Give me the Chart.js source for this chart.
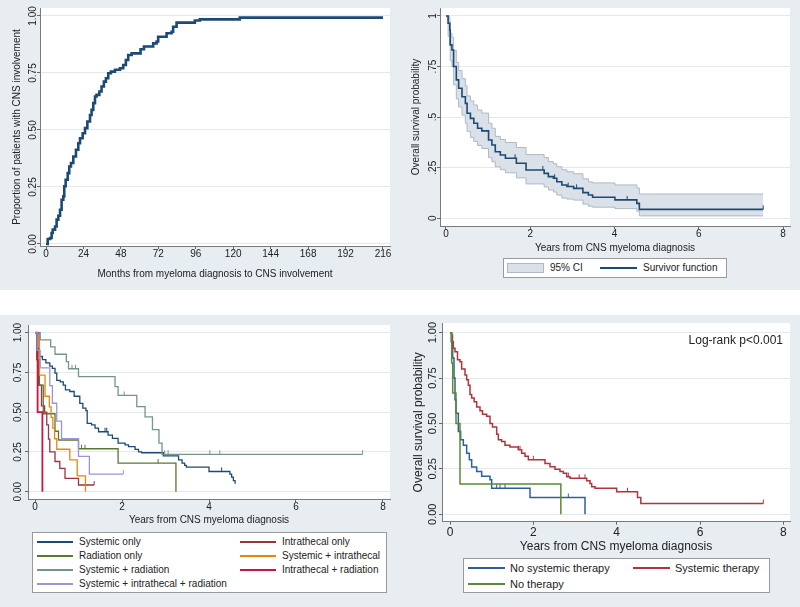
<!DOCTYPE html>
<html><head><meta charset="utf-8">
<script src="https://cdn.jsdelivr.net/npm/chart.js@4.4.1/dist/chart.umd.min.js"></script>
<style>
html,body{margin:0;padding:0;background:#fff}
body{width:800px;height:607px;position:relative;overflow:hidden;font-family:"Liberation Sans",Arial,sans-serif;color:#222}
.panel{position:absolute;background:#e7edf1;overflow:hidden}
.panel canvas{position:absolute;left:0;top:0}
.legend{position:absolute;background:#fff;border:1px solid #9a9a9a;box-sizing:border-box}
.legend .sw{position:absolute}
.legend .tx{position:absolute;white-space:nowrap;color:#222}
.note{position:absolute;white-space:nowrap;color:#222}
</style></head><body>
<div class="panel" id="p1" style="left:0;top:0;width:400px;height:290px"><canvas id="c1" width="400" height="290"></canvas></div>
<div class="panel" id="p2" style="left:400px;top:0;width:400px;height:290px"><canvas id="c2" width="400" height="290"></canvas></div>
<div class="panel" id="p3" style="left:0;top:315px;width:400px;height:292px"><canvas id="c3" width="400" height="292"></canvas></div>
<div class="panel" id="p4" style="left:400px;top:315px;width:400px;height:292px"><canvas id="c4" width="400" height="292"></canvas><div class="note" id="logrank" style="right:17px;top:18px;font-size:12px;line-height:14px"></div></div>
<script>
// ================= DATA =================
// Panel 1: cumulative proportion with CNS involvement
const P1_MONTHS = [0, 1.1, 2.6, 3.6, 4.3, 5.8, 6.8, 7.9, 9.0, 10.0, 11.1, 11.7, 12.6, 13.9, 14.9, 16.0, 17.5, 19.2, 20.7, 21.8, 23.5, 25.0, 26.5, 28.2, 29.2, 30.3, 31.4, 32.4, 34.2, 35.6, 37.1, 38.4, 39.9, 41.6, 44.2, 47.4, 49.5, 51.2, 52.7, 54.9, 60.6, 62.8, 68.7, 70.9, 71.9, 77.3, 80.5, 81.5, 83.7, 95.4, 98.6, 124.2, 216];
const P1_PROP = [0, 0.022, 0.026, 0.048, 0.063, 0.077, 0.107, 0.124, 0.150, 0.194, 0.209, 0.253, 0.282, 0.311, 0.340, 0.355, 0.384, 0.413, 0.442, 0.464, 0.486, 0.508, 0.537, 0.566, 0.588, 0.618, 0.647, 0.654, 0.669, 0.691, 0.712, 0.727, 0.749, 0.756, 0.764, 0.771, 0.785, 0.807, 0.829, 0.836, 0.854, 0.866, 0.880, 0.888, 0.909, 0.924, 0.931, 0.953, 0.971, 0.980, 0.985, 0.993, 0.993];
const P1_X_TICKS = [0, 24, 48, 72, 96, 120, 144, 168, 192, 216];
const P1_Y_TICKS = [0, 0.25, 0.5, 0.75, 1];
const P1_Y_LABELS = ['0.00', '0.25', '0.50', '0.75', '1.00'];
const P1_X_TITLE = 'Months from myeloma diagnosis to CNS involvement';
const P1_Y_TITLE = 'Proportion of patients with CNS involvement';

// Panel 2: overall survival with 95% CI
const P2_YEARS = [0, 0.05, 0.09, 0.10, 0.14, 0.18, 0.245, 0.30, 0.38, 0.46, 0.50, 0.58, 0.66, 0.75, 0.85, 1.01, 1.09, 1.17, 1.29, 1.41, 1.67, 1.90, 2.33, 2.43, 2.55, 2.63, 2.75, 2.87, 3.03, 3.25, 3.38, 3.48, 4.01, 4.53, 4.59, 7.53];
const P2_SURV = [1, 0.964, 0.93, 0.857, 0.832, 0.75, 0.684, 0.643, 0.601, 0.568, 0.519, 0.494, 0.47, 0.445, 0.432, 0.387, 0.362, 0.329, 0.313, 0.297, 0.272, 0.239, 0.222, 0.206, 0.198, 0.181, 0.165, 0.157, 0.148, 0.127, 0.115, 0.104, 0.091, 0.074, 0.044, 0.044];
const P2_LOWER = [1, 0.90, 0.86, 0.78, 0.75, 0.66, 0.59, 0.55, 0.51, 0.47, 0.43, 0.40, 0.38, 0.36, 0.345, 0.30, 0.28, 0.255, 0.24, 0.225, 0.20, 0.17, 0.155, 0.14, 0.13, 0.115, 0.10, 0.095, 0.09, 0.07, 0.06, 0.055, 0.048, 0.035, 0.012, 0.012];
const P2_UPPER = [1, 1, 0.975, 0.915, 0.895, 0.83, 0.77, 0.73, 0.69, 0.655, 0.605, 0.58, 0.56, 0.535, 0.52, 0.47, 0.445, 0.405, 0.39, 0.375, 0.35, 0.315, 0.30, 0.28, 0.27, 0.255, 0.24, 0.23, 0.22, 0.195, 0.18, 0.175, 0.165, 0.15, 0.12, 0.12];
const P2_CENSOR = [1.64, 2.3, 2.58, 2.9, 3.1, 4.3, 7.53];
const P2_Y_LABELS = ['0', '.25', '.5', '.75', '1'];
const P2_LEGEND = ['95% CI', 'Survivor function'];

const YEAR_TICKS = [0, 2, 4, 6, 8];
const SURV_Y_TICKS = [0, 0.25, 0.5, 0.75, 1];
const SURV_Y_LABELS = ['0.00', '0.25', '0.50', '0.75', '1.00'];
const YEARS_TITLE = 'Years from CNS myeloma diagnosis';
const OS_TITLE = 'Overall survival probability';

// Panel 3: survival by treatment group
const P3_SERIES = ['Systemic only', 'Intrathecal only', 'Radiation only', 'Systemic + intrathecal', 'Systemic + radiation', 'Intrathecal + radiation', 'Systemic + intrathecal + radiation'];
const P3_SYS_T = [0, 0.04, 0.1, 0.17, 0.25, 0.34, 0.4, 0.46, 0.5, 0.58, 0.65, 0.7, 0.8, 0.9, 1.03, 1.1, 1.17, 1.2, 1.3, 1.38, 1.46, 1.68, 1.78, 1.91, 2.07, 2.15, 2.3, 2.38, 2.45, 2.95, 3.3, 3.38, 3.44, 3.48, 4.0, 4.48, 4.52, 4.56, 4.6];
const P3_SYS_S = [1, 0.9, 0.85, 0.83, 0.81, 0.79, 0.775, 0.745, 0.7, 0.69, 0.67, 0.64, 0.63, 0.6, 0.555, 0.525, 0.51, 0.43, 0.42, 0.4, 0.377, 0.356, 0.335, 0.305, 0.294, 0.283, 0.266, 0.25, 0.245, 0.225, 0.2, 0.18, 0.165, 0.155, 0.127, 0.11, 0.092, 0.07, 0.05];
const P3_SYS_C = [1.61, 1.65, 4.29];
const P3_IT_T = [0, 0.04, 0.08, 0.15, 0.22, 0.27, 0.31, 0.34, 0.46, 0.57, 0.69, 1.0, 1.36];
const P3_IT_S = [1, 0.83, 0.67, 0.54, 0.5, 0.42, 0.33, 0.25, 0.19, 0.147, 0.084, 0.042, 0.042];
const P3_IT_C = [1.36];
const P3_RAD_T = [0, 0.04, 0.1, 0.19, 0.46, 0.54, 1.0, 1.91, 3.24];
const P3_RAD_S = [1, 0.83, 0.67, 0.49, 0.38, 0.325, 0.27, 0.18, 0];
const P3_RAD_C = [1.07, 1.15, 2.83];
const P3_SI_T = [0, 0.1, 0.23, 0.33, 0.37, 0.41, 0.45, 0.5, 0.8, 0.97, 1.16];
const P3_SI_S = [1, 0.733, 0.6, 0.533, 0.467, 0.4, 0.333, 0.267, 0.2, 0.1, 0];
const P3_SR_T = [0, 0.12, 0.36, 0.46, 0.72, 0.77, 1.0, 1.84, 1.91, 2.34, 2.53, 2.7, 2.85, 2.92, 7.53];
const P3_SR_S = [1, 0.955, 0.91, 0.864, 0.818, 0.773, 0.723, 0.66, 0.605, 0.535, 0.47, 0.39, 0.305, 0.235, 0.235];
const P3_SR_C = [0.85, 0.93, 2.05, 2.98, 3.06, 4.02, 4.25, 7.53];
const P3_IR_T = [0, 0.06, 0.17];
const P3_IR_S = [1, 0.5, 0];
const P3_SIR_T = [0, 0.05, 0.12, 0.34, 0.4, 0.5, 0.61, 1.0, 1.25, 2.03];
const P3_SIR_S = [1, 0.889, 0.778, 0.667, 0.556, 0.444, 0.333, 0.222, 0.111, 0.111];
const P3_SIR_C = [2.03];

// Panel 4: systemic vs no systemic therapy
const P4_SERIES = ['No systemic therapy', 'Systemic therapy', 'No therapy'];
const P4_NOSYS_T = [0, 0.03, 0.064, 0.096, 0.12, 0.144, 0.2, 0.256, 0.32, 0.4, 0.464, 0.52, 0.64, 0.76, 0.96, 1.0, 1.92, 3.24];
const P4_NOSYS_S = [1, 0.95, 0.86, 0.75, 0.63, 0.556, 0.455, 0.41, 0.38, 0.336, 0.3, 0.26, 0.236, 0.209, 0.19, 0.143, 0.092, 0];
const P4_NOSYS_C = [1.12, 1.2, 1.32, 2.84];
const P4_SYS_T = [0, 0.04, 0.06, 0.08, 0.12, 0.18, 0.24, 0.28, 0.36, 0.40, 0.44, 0.48, 0.52, 0.58, 0.64, 0.72, 0.78, 0.88, 0.96, 1.02, 1.12, 1.16, 1.24, 1.32, 1.44, 1.64, 1.72, 1.8, 1.88, 2.28, 2.4, 2.52, 2.64, 2.72, 2.8, 2.88, 3.28, 3.36, 3.4, 3.48, 4.0, 4.5, 4.58, 7.52];
const P4_SYS_S = [1, 0.987, 0.95, 0.914, 0.895, 0.85, 0.84, 0.80, 0.767, 0.74, 0.71, 0.66, 0.64, 0.62, 0.59, 0.57, 0.55, 0.54, 0.50, 0.48, 0.44, 0.41, 0.40, 0.38, 0.37, 0.355, 0.336, 0.32, 0.30, 0.28, 0.262, 0.248, 0.235, 0.226, 0.207, 0.198, 0.185, 0.17, 0.152, 0.143, 0.124, 0.092, 0.059, 0.059];
const P4_SYS_C = [1.64, 1.68, 2.0, 2.84, 3.1, 3.24, 4.26, 7.52];
const P4_NONE_T = [0, 0.04, 0.065, 0.144, 0.24, 2.66];
const P4_NONE_S = [1, 0.833, 0.667, 0.5, 0.167, 0];
const P4_NOTE = 'Log-rank p<0.001';

// ================= STYLE / HELPERS =================
const FONT = '"Liberation Sans", Arial, Helvetica, sans-serif';
Chart.defaults.font.family = FONT;
Chart.defaults.color = '#222';
const NAVY = '#1d4a74', MAROON = '#97363c', GREEN = '#58782f', ORANGE = '#e8860a', TEAL = '#74958a', CRAN = '#cc1443', LAV = '#9b95d8';
const CI_FILL = '#dae1e9', CI_LINE = '#adb9c6';

const pts = (xs, ys) => xs.map((x, i) => ({x: x, y: ys[i]}));

const bgPlugin = {
  id: 'panelBg',
  beforeDraw(chart) {
    const ctx = chart.ctx, a = chart.chartArea;
    ctx.save();
    ctx.fillStyle = '#e7edf1';
    ctx.fillRect(0, 0, chart.width, chart.height);
    ctx.fillStyle = '#ffffff';
    ctx.fillRect(a.left, a.top, a.right - a.left, a.bottom - a.top);
    ctx.restore();
  }
};
function yLabelsPlugin(values, labels, offset, size) {
  return {
    id: 'yLabels',
    afterDraw(chart) {
      const s = chart.scales.y, ctx = chart.ctx;
      ctx.save();
      ctx.font = size + 'px ' + FONT;
      ctx.fillStyle = '#222';
      ctx.textAlign = 'center';
      ctx.textBaseline = 'middle';
      values.forEach((v, i) => {
        ctx.save();
        ctx.translate(chart.chartArea.left - offset, s.getPixelForValue(v));
        ctx.rotate(-Math.PI / 2);
        ctx.fillText(labels[i], 0, 0);
        ctx.restore();
      });
      ctx.restore();
    }
  };
}
const censorPlugin = {
  id: 'censorTicks',
  afterDatasetsDraw(chart) {
    const ctx = chart.ctx, xs = chart.scales.x, ys = chart.scales.y;
    ctx.save();
    chart.data.datasets.forEach(ds => {
      if (!ds.censorTimes) return;
      ctx.strokeStyle = ds.borderColor;
      ctx.lineWidth = 1;
      ds.censorTimes.forEach(t => {
        let v = ds.data[0].y;
        for (const p of ds.data) { if (p.x <= t) v = p.y; else break; }
        const px = xs.getPixelForValue(t), py = ys.getPixelForValue(v);
        ctx.beginPath(); ctx.moveTo(px, py); ctx.lineTo(px, py - 4); ctx.stroke();
      });
    });
    ctx.restore();
  }
};

function km(label, xs, ys, color, width, order, censor) {
  return {label: label, data: pts(xs, ys), borderColor: color, backgroundColor: color, borderWidth: width,
    stepped: 'before', pointRadius: 0, pointHoverRadius: 0, fill: false, order: order, censorTimes: censor || null};
}

function scales(c) {
  return {
    x: {
      type: 'linear', min: c.xmin, max: c.xmax,
      afterBuildTicks: s => { s.ticks = c.xticks.map(v => ({value: v})); },
      afterFit: s => { s.height = c.xh; },
      grid: {drawOnChartArea: false, drawTicks: true, tickLength: 3, tickColor: '#666', color: '#666'},
      border: {display: true, color: '#7a7a7a', width: 1},
      ticks: {color: '#222', font: {size: c.xtickSize || c.tickSize, lineHeight: 1}, padding: c.xpad, maxRotation: 0, minRotation: 0, autoSkip: false},
      title: {display: true, text: c.xtitle, color: '#222', font: {size: c.titleSize, lineHeight: 1.2}, padding: {top: 0, bottom: c.xtpad}}
    },
    y: {
      type: 'linear', min: c.ymin, max: c.ymax,
      afterBuildTicks: s => { s.ticks = c.yticks.map(v => ({value: v})); },
      afterFit: s => { s.width = c.yw; },
      grid: {color: '#e3eaee', tickColor: '#666', drawTicks: true, tickLength: 3},
      border: {display: true, color: '#7a7a7a', width: 1},
      ticks: {display: false},
      title: {display: !!c.ytitle, text: c.ytitle || '', color: '#222', font: {size: c.titleSize, lineHeight: 1.2}, padding: {top: c.ytpad || 0, bottom: 0}}
    }
  };
}

function makeChart(id, datasets, c) {
  return new Chart(document.getElementById(id), {
    type: 'line',
    data: {datasets: datasets},
    options: {
      responsive: false, animation: false, events: [],
      layout: {padding: c.pad},
      plugins: {legend: {display: false}, tooltip: {enabled: false}},
      scales: scales(c)
    },
    plugins: [bgPlugin, yLabelsPlugin(c.yticks, c.ylabels, c.yoff, c.tickSize), censorPlugin]
  });
}

function legend(panelId, items, o) {
  const p = document.getElementById(panelId);
  const box = document.createElement('div');
  box.className = 'legend';
  Object.assign(box.style, {left: o.x + 'px', top: o.y + 'px', width: o.w + 'px', height: o.h + 'px', fontSize: o.size + 'px'});
  const lh = Math.round(o.size * 1.2);
  items.forEach((it, i) => {
    const r = Math.floor(i / o.cols), c = i % o.cols;
    const cx = o.colX[c], cy = o.rowY[r];
    const sw = document.createElement('div');
    sw.className = 'sw';
    if (it.kind === 'area') {
      Object.assign(sw.style, {left: cx + 'px', top: (cy - 5) + 'px', width: o.swW + 'px', height: '10px', background: it.fill, border: '1px solid ' + it.color, boxSizing: 'border-box'});
    } else {
      Object.assign(sw.style, {left: cx + 'px', top: (cy - it.width / 2) + 'px', width: o.swW + 'px', height: it.width + 'px', background: it.color});
    }
    const tx = document.createElement('div');
    tx.className = 'tx';
    tx.textContent = it.label;
    Object.assign(tx.style, {left: (cx + o.gap) + 'px', top: (cy - lh / 2) + 'px', lineHeight: lh + 'px'});
    box.appendChild(sw); box.appendChild(tx);
  });
  p.appendChild(box);
}

// ================= PANEL 1 =================
makeChart('c1', [km('Cumulative', P1_MONTHS, P1_PROP, NAVY, 2.6, 0)], {
  pad: {left: 0, top: 8, right: 10, bottom: 0},
  xmin: -3.85, xmax: 220.5, ymin: -0.0088, ymax: 1.035,
  xticks: P1_X_TICKS, yticks: P1_Y_TICKS, ylabels: P1_Y_LABELS,
  xh: 44, yw: 40, xpad: 0, yoff: 6.5, tickSize: 10, titleSize: 10,
  xtitle: P1_X_TITLE, xtpad: 10, ytitle: P1_Y_TITLE, ytpad: 11
});

// ================= PANEL 2 =================
makeChart('c2', [
  {label: 'upper', data: pts(P2_YEARS, P2_UPPER), borderColor: CI_LINE, backgroundColor: CI_FILL, borderWidth: 1, stepped: 'before', pointRadius: 0, fill: '+1', order: 3},
  {label: 'lower', data: pts(P2_YEARS, P2_LOWER), borderColor: CI_LINE, backgroundColor: CI_FILL, borderWidth: 1, stepped: 'before', pointRadius: 0, fill: false, order: 2},
  km(P2_LEGEND[1], P2_YEARS, P2_SURV, NAVY, 1.6, 0, P2_CENSOR)
], {
  pad: {left: 0, top: 8, right: 10, bottom: 0},
  xmin: -0.1424, xmax: 8.166, ymin: -0.038, ymax: 1.0395,
  xticks: YEAR_TICKS, yticks: SURV_Y_TICKS, ylabels: P2_Y_LABELS,
  xh: 64, yw: 40, xpad: 0, yoff: 6.7, tickSize: 10, titleSize: 10,
  xtitle: YEARS_TITLE, xtpad: 35.7, ytitle: OS_TITLE, ytpad: 10.7
});
legend('p2', [
  {label: P2_LEGEND[0], kind: 'area', fill: CI_FILL, color: CI_LINE},
  {label: P2_LEGEND[1], kind: 'line', color: NAVY, width: 1.6}
], {x: 103, y: 258, w: 224, h: 20, size: 10, cols: 2, colX: [3, 96], rowY: [9], swW: 37, gap: 43});

// ================= PANEL 3 =================
const P3_COLORS = [NAVY, MAROON, GREEN, ORANGE, TEAL, CRAN, LAV];
const P3_T = [P3_SYS_T, P3_IT_T, P3_RAD_T, P3_SI_T, P3_SR_T, P3_IR_T, P3_SIR_T];
const P3_S = [P3_SYS_S, P3_IT_S, P3_RAD_S, P3_SI_S, P3_SR_S, P3_IR_S, P3_SIR_S];
const P3_C = [P3_SYS_C, P3_IT_C, P3_RAD_C, null, P3_SR_C, null, P3_SIR_C];
makeChart('c3', P3_SERIES.map((name, i) => km(name, P3_T[i], P3_S[i], P3_COLORS[i], i === 5 ? 1.8 : 1.3, 6 - i, P3_C[i])), {
  pad: {left: 0, top: 10, right: 10, bottom: 0},
  xmin: -0.161, xmax: 8.161, ymin: -0.0459, ymax: 1.048,
  xticks: YEAR_TICKS, yticks: SURV_Y_TICKS, ylabels: SURV_Y_LABELS,
  xh: 108, yw: 28, xpad: 0, yoff: 10, tickSize: 10, titleSize: 10,
  xtitle: YEARS_TITLE, xtpad: 80.3
});
legend('p3', P3_SERIES.map((name, i) => ({label: name, kind: 'line', color: P3_COLORS[i], width: 1.6})),
  {x: 32, y: 217, w: 355, h: 61, size: 10, cols: 2, colX: [4, 207], rowY: [9, 23, 37, 51], swW: 36, gap: 42});

// ================= PANEL 4 =================
const P4_COLORS = ['#2f5f9a', '#b0343c', '#5c8a36'];
makeChart('c4', [
  km(P4_SERIES[0], P4_NOSYS_T, P4_NOSYS_S, P4_COLORS[0], 1.5, 2, P4_NOSYS_C),
  km(P4_SERIES[1], P4_SYS_T, P4_SYS_S, P4_COLORS[1], 1.5, 1, P4_SYS_C),
  km(P4_SERIES[2], P4_NONE_T, P4_NONE_S, P4_COLORS[2], 1.5, 0)
], {
  pad: {left: 0, top: 8, right: 10, bottom: 0},
  xmin: -0.192, xmax: 8.16, ymin: -0.041, ymax: 1.053,
  xticks: YEAR_TICKS, yticks: SURV_Y_TICKS, ylabels: SURV_Y_LABELS,
  xh: 85.3, yw: 42, xpad: 2, yoff: 9, tickSize: 11, xtickSize: 12, titleSize: 12,
  xtitle: YEARS_TITLE, xtpad: 53.1, ytitle: OS_TITLE, ytpad: 11.1
});
legend('p4', P4_SERIES.map((name, i) => ({label: name, kind: 'line', color: P4_COLORS[i], width: 1.8})),
  {x: 63, y: 243, w: 307, h: 35, size: 11, cols: 2, colX: [4, 169], rowY: [9, 25], swW: 37, gap: 42});
document.getElementById('logrank').textContent = P4_NOTE;
</script>
</body></html>
